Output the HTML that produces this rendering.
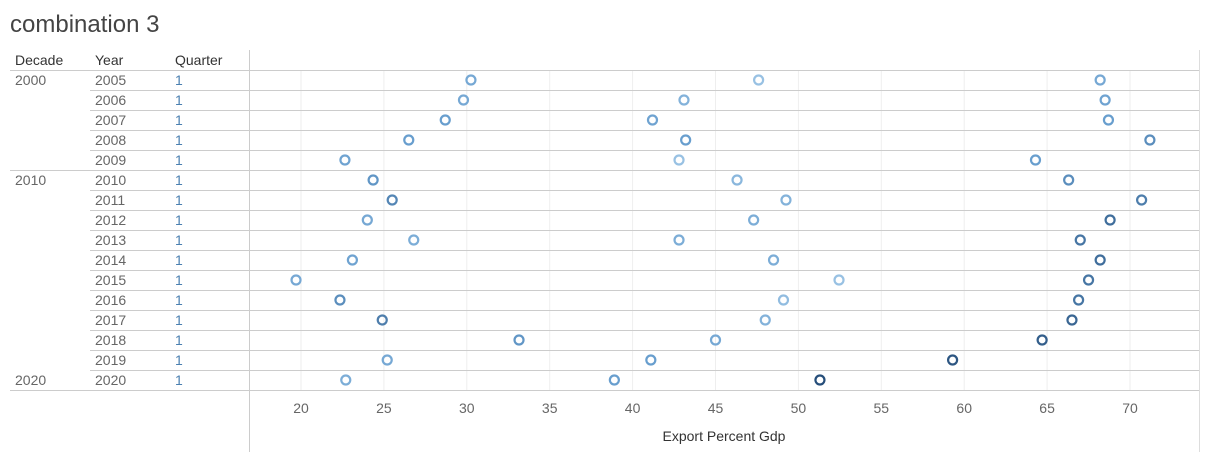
<!DOCTYPE html>
<html><head><meta charset="utf-8"><style>
body{margin:0;width:1207px;height:457px;background:#fff;font-family:"Liberation Sans",sans-serif;overflow:hidden}
svg text{font-family:"Liberation Sans",sans-serif}
</style></head><body>
<svg id="c" width="1207" height="457">
<text x="10" y="32" font-size="24" fill="#444">combination 3</text>
</svg>
<script>
const years=[2005,2006,2007,2008,2009,2010,2011,2012,2013,2014,2015,2016,2017,2018,2019,2020];
const decades=["2000","2010","2020"];
const seriesA=[30.25,29.8,28.7,26.5,22.65,24.35,25.5,24.0,26.8,23.1,19.7,22.35,24.9,33.15,25.2,22.7];
const seriesB=[47.6,43.1,41.2,43.2,42.8,46.3,49.25,47.3,42.8,48.5,52.45,49.1,48.0,45.0,41.1,38.9];
const seriesC=[68.2,68.5,68.7,71.2,64.3,66.3,70.7,68.8,67.0,68.2,67.5,66.9,66.5,64.7,59.3,51.3];
const shadeA=[0.4,0.4,0.5,0.5,0.45,0.55,0.65,0.4,0.35,0.45,0.4,0.6,0.7,0.55,0.4,0.35];
const shadeB=[0.15,0.3,0.45,0.5,0.15,0.25,0.3,0.35,0.35,0.35,0.15,0.2,0.3,0.4,0.5,0.5];
const shadeC=[0.4,0.45,0.5,0.6,0.5,0.6,0.7,0.8,0.75,0.8,0.75,0.75,0.85,0.9,0.95,1.0];
const ticks=[20,25,30,35,40,45,50,55,60,65,70];
const NS="http://www.w3.org/2000/svg";
const svg=document.getElementById('c');
const x=v=>301+(v-20)*16.58;
const rowY=i=>80+i*20;
function mk(t,a,txt){const e=document.createElementNS(NS,t);for(const k in a)e.setAttribute(k,a[k]);if(txt!==undefined)e.textContent=txt;svg.appendChild(e);return e;}
function col(s){
 const L=[172,208,236],M=[104,158,206],D=[38,78,122];
 let a,b,t;
 if(s<0.5){a=L;b=M;t=s/0.5;}else{a=M;b=D;t=(s-0.5)/0.5;}
 return `rgb(${a.map((v,i)=>Math.round(v+(b[i]-v)*t)).join(',')})`;
}
ticks.forEach(t=>{
 const g=mk('line',{x1:x(t),x2:x(t),y1:70,y2:390,stroke:'#eee','stroke-width':1});
 
 
 const l=mk('text',{x:x(t),y:413,'font-size':14,fill:'#666','text-anchor':'middle'},t);
 
 
});
[["Decade",15],["Year",95],["Quarter",175]].forEach(h=>{
 const e=mk('text',{x:h[1],y:65,'font-size':14,fill:'#333'},h[0]);
 
 
});
mk('line',{x1:10,x2:1199,y1:70.5,y2:70.5,stroke:'#ccc'});
years.forEach((yr,i)=>{
 const yb=rowY(i)+10.5;
 const boundary=(yr===2009||yr===2020);
 const ln=mk('line',{x1:boundary?10:90,x2:1199,y1:yb,y2:yb,stroke:'#ccc'});
 
 
 const t=mk('text',{x:95,y:rowY(i)+5,'font-size':14,fill:'#666'},yr);
 
 
 const q=mk('text',{x:175,y:rowY(i)+5,'font-size':14,fill:'#4a7fb0'},'1');
 
 
});
const decRows=[0,5,15];
decades.forEach((d,k)=>{
 const t=mk('text',{x:15,y:rowY(decRows[k])+5,'font-size':14,fill:'#666'},d);
 
 
});
mk('line',{x1:249.5,x2:249.5,y1:50,y2:452,stroke:'#ccc'});
mk('line',{x1:1199.5,x2:1199.5,y1:50,y2:452,stroke:'#ddd'});
[[seriesA,shadeA,'a'],[seriesB,shadeB,'b'],[seriesC,shadeC,'c']].forEach(([vals,sh,n])=>{
 vals.forEach((v,i)=>{
  const c=mk('circle',{cx:x(v),cy:rowY(i),r:4.5,fill:'none',stroke:col(sh[i]),'stroke-width':2.2});
  
  
 });
});
const at=mk('text',{x:724,y:441,'font-size':14,fill:'#333','text-anchor':'middle'},'Export Percent Gdp');


</script>
</body></html>
